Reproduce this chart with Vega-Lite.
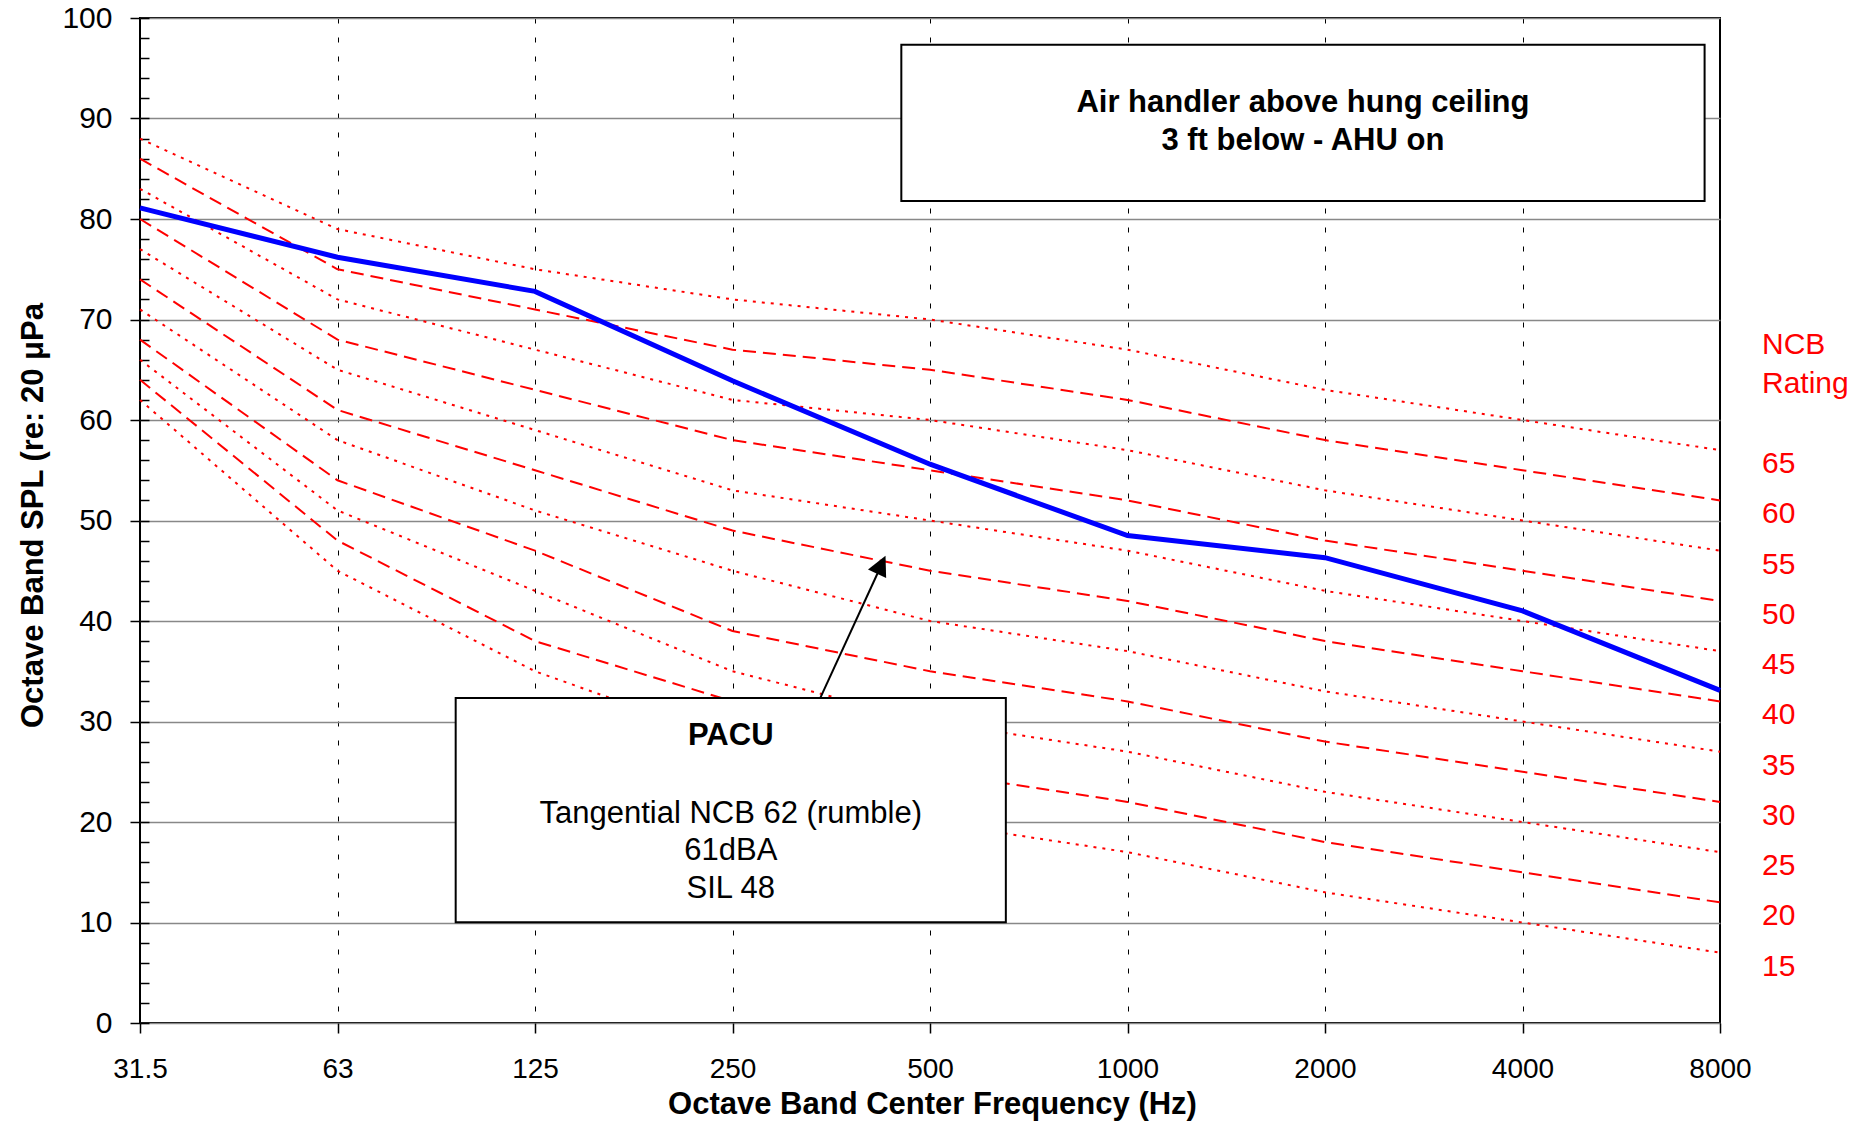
{
  "$schema": "https://vega.github.io/schema/vega-lite/v6.json",
  "width": 1580,
  "height": 1005,
  "autosize": {"type": "none"},
  "padding": {"left": 140, "top": 18, "right": 147, "bottom": 105},
  "background": "white",
  "config": {
    "font": "Liberation Sans",
    "view": {"stroke": "black", "strokeWidth": 2},
    "axis": {"labelColor": "black", "titleColor": "black", "tickColor": "black"}
  },
  "datasets": {
    "ncb": [
      {"ncb": 65, "freq": 31.5, "spl": 88}, {"ncb": 65, "freq": 63, "spl": 79}, {"ncb": 65, "freq": 125, "spl": 75}, {"ncb": 65, "freq": 250, "spl": 72}, {"ncb": 65, "freq": 500, "spl": 70}, {"ncb": 65, "freq": 1000, "spl": 67}, {"ncb": 65, "freq": 2000, "spl": 63}, {"ncb": 65, "freq": 4000, "spl": 60}, {"ncb": 65, "freq": 8000, "spl": 57},
      {"ncb": 60, "freq": 31.5, "spl": 86}, {"ncb": 60, "freq": 63, "spl": 75}, {"ncb": 60, "freq": 125, "spl": 71}, {"ncb": 60, "freq": 250, "spl": 67}, {"ncb": 60, "freq": 500, "spl": 65}, {"ncb": 60, "freq": 1000, "spl": 62}, {"ncb": 60, "freq": 2000, "spl": 58}, {"ncb": 60, "freq": 4000, "spl": 55}, {"ncb": 60, "freq": 8000, "spl": 52},
      {"ncb": 55, "freq": 31.5, "spl": 83}, {"ncb": 55, "freq": 63, "spl": 72}, {"ncb": 55, "freq": 125, "spl": 67}, {"ncb": 55, "freq": 250, "spl": 62}, {"ncb": 55, "freq": 500, "spl": 60}, {"ncb": 55, "freq": 1000, "spl": 57}, {"ncb": 55, "freq": 2000, "spl": 53}, {"ncb": 55, "freq": 4000, "spl": 50}, {"ncb": 55, "freq": 8000, "spl": 47},
      {"ncb": 50, "freq": 31.5, "spl": 80}, {"ncb": 50, "freq": 63, "spl": 68}, {"ncb": 50, "freq": 125, "spl": 63}, {"ncb": 50, "freq": 250, "spl": 58}, {"ncb": 50, "freq": 500, "spl": 55}, {"ncb": 50, "freq": 1000, "spl": 52}, {"ncb": 50, "freq": 2000, "spl": 48}, {"ncb": 50, "freq": 4000, "spl": 45}, {"ncb": 50, "freq": 8000, "spl": 42},
      {"ncb": 45, "freq": 31.5, "spl": 77}, {"ncb": 45, "freq": 63, "spl": 65}, {"ncb": 45, "freq": 125, "spl": 59}, {"ncb": 45, "freq": 250, "spl": 53}, {"ncb": 45, "freq": 500, "spl": 50}, {"ncb": 45, "freq": 1000, "spl": 47}, {"ncb": 45, "freq": 2000, "spl": 43}, {"ncb": 45, "freq": 4000, "spl": 40}, {"ncb": 45, "freq": 8000, "spl": 37},
      {"ncb": 40, "freq": 31.5, "spl": 74}, {"ncb": 40, "freq": 63, "spl": 61}, {"ncb": 40, "freq": 125, "spl": 55}, {"ncb": 40, "freq": 250, "spl": 49}, {"ncb": 40, "freq": 500, "spl": 45}, {"ncb": 40, "freq": 1000, "spl": 42}, {"ncb": 40, "freq": 2000, "spl": 38}, {"ncb": 40, "freq": 4000, "spl": 35}, {"ncb": 40, "freq": 8000, "spl": 32},
      {"ncb": 35, "freq": 31.5, "spl": 71}, {"ncb": 35, "freq": 63, "spl": 58}, {"ncb": 35, "freq": 125, "spl": 51}, {"ncb": 35, "freq": 250, "spl": 45}, {"ncb": 35, "freq": 500, "spl": 40}, {"ncb": 35, "freq": 1000, "spl": 37}, {"ncb": 35, "freq": 2000, "spl": 33}, {"ncb": 35, "freq": 4000, "spl": 30}, {"ncb": 35, "freq": 8000, "spl": 27},
      {"ncb": 30, "freq": 31.5, "spl": 68}, {"ncb": 30, "freq": 63, "spl": 54}, {"ncb": 30, "freq": 125, "spl": 47}, {"ncb": 30, "freq": 250, "spl": 39}, {"ncb": 30, "freq": 500, "spl": 35}, {"ncb": 30, "freq": 1000, "spl": 32}, {"ncb": 30, "freq": 2000, "spl": 28}, {"ncb": 30, "freq": 4000, "spl": 25}, {"ncb": 30, "freq": 8000, "spl": 22},
      {"ncb": 25, "freq": 31.5, "spl": 66}, {"ncb": 25, "freq": 63, "spl": 51}, {"ncb": 25, "freq": 125, "spl": 43}, {"ncb": 25, "freq": 250, "spl": 35}, {"ncb": 25, "freq": 500, "spl": 30}, {"ncb": 25, "freq": 1000, "spl": 27}, {"ncb": 25, "freq": 2000, "spl": 23}, {"ncb": 25, "freq": 4000, "spl": 20}, {"ncb": 25, "freq": 8000, "spl": 17},
      {"ncb": 20, "freq": 31.5, "spl": 64}, {"ncb": 20, "freq": 63, "spl": 48}, {"ncb": 20, "freq": 125, "spl": 38}, {"ncb": 20, "freq": 250, "spl": 32}, {"ncb": 20, "freq": 500, "spl": 25}, {"ncb": 20, "freq": 1000, "spl": 22}, {"ncb": 20, "freq": 2000, "spl": 18}, {"ncb": 20, "freq": 4000, "spl": 15}, {"ncb": 20, "freq": 8000, "spl": 12},
      {"ncb": 15, "freq": 31.5, "spl": 62}, {"ncb": 15, "freq": 63, "spl": 45}, {"ncb": 15, "freq": 125, "spl": 35}, {"ncb": 15, "freq": 250, "spl": 28}, {"ncb": 15, "freq": 500, "spl": 20}, {"ncb": 15, "freq": 1000, "spl": 17}, {"ncb": 15, "freq": 2000, "spl": 13}, {"ncb": 15, "freq": 4000, "spl": 10}, {"ncb": 15, "freq": 8000, "spl": 7}
    ],
    "measured": [
      {"freq": 31.5, "spl": 81.1}, {"freq": 63, "spl": 76.2}, {"freq": 125, "spl": 72.8}, {"freq": 250, "spl": 63.9}, {"freq": 500, "spl": 55.6}, {"freq": 1000, "spl": 48.5}, {"freq": 2000, "spl": 46.3}, {"freq": 4000, "spl": 41.0}, {"freq": 8000, "spl": 33.1}
    ]
  },
  "resolve": {"axis": {"x": "independent", "y": "independent"}},
  "layer": [
    {
      "data": {"name": "ncb"},
      "mark": {"type": "line", "color": "#FF0000", "strokeWidth": 2},
      "encoding": {
        "x": {
          "field": "freq", "type": "quantitative",
          "scale": {
            "type": "linear",
            "domain": [31.5, 63, 125, 250, 500, 1000, 2000, 4000, 8000],
            "range": [0, 197.5, 395, 592.5, 790, 987.5, 1185, 1382.5, 1580],
            "nice": false, "zero": false
          },
          "axis": {
            "values": [31.5, 63, 125, 250, 500, 1000, 2000, 4000, 8000],
            "labelExpr": "format(datum.value, '~g')", "labelFlush": false, "labelOverlap": false,
            "tickSize": 10, "tickWidth": 1.5, "labelPadding": 22, "labelBaseline": "top", "labelFontSize": 28,
            "grid": true, "gridColor": "black", "gridDash": [5, 14], "gridWidth": 1, "domain": false,
            "title": "Octave Band Center Frequency (Hz)", "titleFontSize": 31, "titleFontWeight": "bold",
            "titleX": 792, "titleY": 90, "titleBaseline": "alphabetic", "titleAlign": "center"
          }
        },
        "y": {
          "field": "spl", "type": "quantitative",
          "scale": {"domain": [0, 100], "nice": false, "zero": true},
          "axis": {
            "values": [0, 10, 20, 30, 40, 50, 60, 70, 80, 90, 100],
            "tickSize": 10, "tickWidth": 1.5, "labelPadding": 18, "labelFontSize": 30,
            "grid": true, "gridColor": "#888888", "gridWidth": 1.5, "domain": false,
            "title": "Octave Band SPL (re: 20 μPa", "titleFontSize": 31, "titleFontWeight": "bold",
            "titleX": -107, "titleY": 497, "titleAngle": -90, "titleAlign": "center", "titleBaseline": "middle"
          }
        },
        "detail": {"field": "ncb", "type": "nominal"},
        "strokeDash": {
          "field": "ncb", "type": "nominal",
          "scale": {
            "domain": [65, 60, 55, 50, 45, 40, 35, 30, 25, 20, 15],
            "range": [[3, 6], [13, 7], [3, 6], [13, 7], [3, 6], [13, 7], [3, 6], [13, 7], [3, 6], [13, 7], [3, 6]]
          },
          "legend": null
        }
      }
    },
    {
      "data": {"name": "measured"},
      "mark": {"type": "line", "color": "#0000FF", "strokeWidth": 5},
      "encoding": {
        "x": {"field": "freq", "type": "quantitative", "axis": null},
        "y": {
          "field": "spl", "type": "quantitative",
          "axis": {
            "orient": "left",
            "values": [0, 2, 4, 6, 8, 10, 12, 14, 16, 18, 20, 22, 24, 26, 28, 30, 32, 34, 36, 38, 40, 42, 44, 46, 48, 50, 52, 54, 56, 58, 60, 62, 64, 66, 68, 70, 72, 74, 76, 78, 80, 82, 84, 86, 88, 90, 92, 94, 96, 98, 100],
            "tickSize": -9, "tickWidth": 1.5, "labels": false, "domain": false, "grid": false, "title": null
          }
        }
      }
    },
    {
      "data": {"name": "ncb"},
      "transform": [{"filter": "datum.freq == 8000"}],
      "mark": {"type": "text", "color": "#FF0000", "fontSize": 30, "align": "left", "baseline": "middle", "dx": 42, "dy": 14},
      "encoding": {
        "x": {"field": "freq", "type": "quantitative", "axis": null},
        "y": {"field": "spl", "type": "quantitative", "axis": null},
        "text": {"field": "ncb", "type": "nominal"}
      }
    },
    {
      "data": {"values": [{"label": ["NCB", "Rating"]}]},
      "mark": {"type": "text", "color": "#FF0000", "fontSize": 30, "align": "left", "baseline": "alphabetic", "dx": 42, "lineHeight": 39},
      "encoding": {
        "x": {"datum": 8000, "type": "quantitative", "axis": null},
        "y": {"datum": 66.6, "type": "quantitative", "axis": null},
        "text": {"field": "label"}
      }
    },
    {
      "data": {"values": [{"label": "box"}]},
      "mark": {"type": "rect", "fill": "white", "stroke": "black", "strokeWidth": 2},
      "encoding": {
        "x": {"datum": 463.7, "type": "quantitative", "axis": null},
        "x2": {"datum": 7688},
        "y": {"datum": 97.34, "type": "quantitative", "axis": null},
        "y2": {"datum": 81.8}
      }
    },
    {
      "data": {"values": [{"label": ["Air handler above hung ceiling", "3 ft below - AHU on"]}]},
      "mark": {"type": "text", "color": "black", "fontSize": 31, "fontWeight": "bold", "align": "center", "baseline": "alphabetic", "lineHeight": 38.5},
      "encoding": {
        "x": {"datum": 1888, "type": "quantitative", "axis": null},
        "y": {"datum": 90.67, "type": "quantitative", "axis": null},
        "text": {"field": "label"}
      }
    },
    {
      "data": {"values": [{"label": "box"}]},
      "mark": {"type": "rect", "fill": "white", "stroke": "black", "strokeWidth": 2},
      "encoding": {
        "x": {"datum": 100.1, "type": "quantitative", "axis": null},
        "x2": {"datum": 692},
        "y": {"datum": 32.33, "type": "quantitative", "axis": null},
        "y2": {"datum": 10.03}
      }
    },
    {
      "data": {"values": [{"label": "PACU"}]},
      "mark": {"type": "text", "color": "black", "fontSize": 31, "fontWeight": "bold", "align": "center", "baseline": "alphabetic"},
      "encoding": {
        "x": {"datum": 248.9, "type": "quantitative", "axis": null},
        "y": {"datum": 27.68, "type": "quantitative", "axis": null},
        "text": {"field": "label"}
      }
    },
    {
      "data": {"values": [{"label": ["Tangential NCB 62 (rumble)", "61dBA", "SIL 48"]}]},
      "mark": {"type": "text", "color": "black", "fontSize": 31, "align": "center", "baseline": "alphabetic", "lineHeight": 37.8},
      "encoding": {
        "x": {"datum": 248.9, "type": "quantitative", "axis": null},
        "y": {"datum": 19.94, "type": "quantitative", "axis": null},
        "text": {"field": "label"}
      }
    },
    {
      "data": {"values": [{"label": "arrow"}]},
      "mark": {"type": "rule", "color": "black", "strokeWidth": 2},
      "encoding": {
        "x": {"datum": 361, "type": "quantitative", "axis": null},
        "y": {"datum": 32.33, "type": "quantitative", "axis": null},
        "x2": {"datum": 435.7},
        "y2": {"datum": 45.1}
      }
    },
    {
      "data": {"values": [{"label": "arrowhead"}]},
      "mark": {"type": "point", "shape": "M0,0L0.5,1L-0.5,1Z", "size": 1600, "angle": 25, "filled": true, "color": "black", "opacity": 1},
      "encoding": {
        "x": {"datum": 443.7, "type": "quantitative", "axis": null},
        "y": {"datum": 46.5, "type": "quantitative", "axis": null}
      }
    }
  ]
}
